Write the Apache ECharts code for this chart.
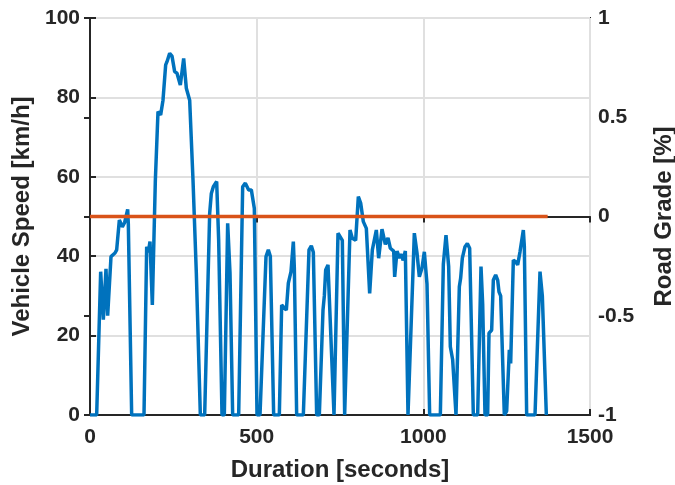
<!DOCTYPE html>
<html>
<head>
    <meta charset="utf-8" />
    <title>Vehicle Speed / Road Grade</title>
    <style type="text/css">
        html,body{margin:0;padding:0;background:#fff;}
        #chart{width:675px;height:485px;}
    </style>
</head>
<body>
<div id="chart"></div>
<script src="https://cdn.jsdelivr.net/npm/echarts@6/dist/echarts.min.js"></script>
<script>
    // drive cycle
    var durationSec = [0, 20, 32, 40, 48, 53, 63, 75, 80, 88, 97, 104, 113, 115, 125, 162, 170, 175, 180, 187,
        196, 204, 212, 219, 227, 231, 239, 246, 254, 261, 271, 281, 289, 299, 309, 319, 331, 344, 359, 364,
        370, 380, 386, 396, 403, 413, 420, 428, 446, 458, 466, 476, 484, 493, 501, 510, 528, 535, 541, 551,
        568, 575, 581, 589, 595, 603, 606, 610, 613, 620, 640, 657, 664, 670, 680, 688, 699, 703, 707, 714,
        732, 736, 744, 750, 757, 764, 767, 780, 787, 797, 805, 812, 820, 829, 839, 847, 859, 866, 876, 886,
        894, 901, 911, 914, 921, 929, 936, 939, 946, 954, 958, 973, 981, 988, 996, 1003, 1011, 1019, 1051, 1060,
        1068, 1076, 1081, 1088, 1098, 1108, 1112, 1117, 1125, 1132, 1139, 1150, 1163, 1173, 1178, 1185, 1193, 1197, 1205, 1210,
        1217, 1223, 1227, 1232, 1243, 1250, 1258, 1262, 1270, 1277, 1283, 1290, 1300, 1303, 1310, 1335, 1350, 1357, 1369, 1371];
    var speedKmh = [0, 0, 36.1, 24, 36.8, 25, 39.9, 40.8, 41.6, 49.1, 47.4, 48.5, 51.8, 48, 0, 0, 42.4, 41, 43.7, 27.7,
        59, 76.4, 75.6, 79.3, 88.2, 89, 91.1, 90.4, 86.5, 86.1, 83.1, 89.8, 82.3, 79.3, 59.2, 35.7, 0, 0, 50.8, 55.8,
        57.5, 58.8, 44, 0, 0, 48.3, 35.8, 0, 0, 57.5, 58.4, 56.7, 56.7, 52, 0, 0, 39.9, 41.6, 40, 0,
        0, 27.7, 28, 26.4, 33.2, 36.1, 35.7, 43.7, 37, 0, 0, 41.6, 42.6, 41, 0, 0, 26.4, 30, 36.5, 37.8,
        0, 0, 45.8, 46, 44, 0, 0, 46.6, 44.5, 44, 55, 53.4, 48.7, 47, 30.6, 41.6, 46.6, 39.5, 46.8, 43,
        44.6, 42, 41.3, 34.8, 41.3, 39.6, 40.5, 38.9, 41.3, 0, 0, 45.8, 40.8, 34.8, 37, 41.1, 33, 0, 0, 38,
        45.3, 37.4, 17.2, 13.9, 0, 32.3, 34.5, 39.5, 42.4, 43.2, 42, 0, 0, 37.4, 28, 0, 0, 20.6, 21.4, 34,
        35.3, 34, 31, 30, 0, 1, 16.4, 13, 39, 38.6, 37.8, 41.1, 46.6, 42.5, 0, 0, 36.1, 30, 0, 0];
    var gradeSec = [0, 1373];
    var gradePct = [0, 0];

    var speedData = [];
    for (var i = 0; i < durationSec.length; i++) {
        speedData.push([durationSec[i], speedKmh[i]]);
    }
    var gradeData = [];
    for (var j = 0; j < gradeSec.length; j++) {
        gradeData.push([gradeSec[j], gradePct[j]]);
    }

    var ink = '#262626';
    var fontName = '"Liberation Sans", Arial, sans-serif';
    var labelStyle = {color: ink, fontSize: 21, fontWeight: 'bold', fontFamily: fontName};
    var nameStyle = {color: ink, fontSize: 24, fontWeight: 'bold', fontFamily: fontName};
    var tick = {show: true, inside: true, length: 6, lineStyle: {color: ink, width: 2}};

    var chart = echarts.init(document.getElementById('chart'));
    chart.setOption({
        animation: false,
        grid: {left: 90, top: 18, right: 85, bottom: 70, outerBoundsMode: 'none', containLabel: false,
            show: true, borderColor: ink, borderWidth: 2},
        xAxis: [{
            type: 'value',
            min: 0, max: 1500, interval: 500,
            name: 'Duration [seconds]',
            nameLocation: 'middle',
            nameGap: 43,
            nameTextStyle: nameStyle,
            axisLine: {show: true, lineStyle: {color: ink, width: 2}},
            axisTick: tick,
            axisLabel: Object.assign({margin: 12, formatter: function (v) { return String(v); }}, labelStyle),
            splitLine: {show: true, lineStyle: {color: '#e0e0e0', width: 2}}
        }, {
            type: 'value',
            position: 'top',
            min: 0, max: 1500, interval: 500,
            axisLine: {show: true, lineStyle: {color: ink, width: 2}},
            axisTick: tick,
            axisLabel: {show: false},
            splitLine: {show: false}
        }],
        yAxis: [{
            type: 'value',
            min: 0, max: 100, interval: 20,
            name: 'Vehicle Speed [km/h]',
            nameLocation: 'middle',
            nameRotate: 90,
            nameGap: 54,
            nameTextStyle: nameStyle,
            axisLine: {show: true, lineStyle: {color: ink, width: 2}},
            axisTick: tick,
            axisLabel: Object.assign({margin: 10}, labelStyle),
            splitLine: {show: true, lineStyle: {color: '#e0e0e0', width: 2}}
        }, {
            type: 'value',
            position: 'right',
            min: -1, max: 1, interval: 0.5,
            name: 'Road Grade [%]',
            nameLocation: 'middle',
            nameRotate: 90,
            nameGap: 62,
            nameTextStyle: nameStyle,
            axisLine: {show: true, lineStyle: {color: ink, width: 2}},
            axisTick: tick,
            axisLabel: Object.assign({margin: 8}, labelStyle),
            splitLine: {show: false}
        }],
        series: [{
            name: 'Vehicle Speed',
            type: 'line',
            yAxisIndex: 0,
            data: speedData,
            showSymbol: false,
            lineStyle: {color: '#0072BD', width: 3.5},
            itemStyle: {color: '#0072BD'},
            z: 3
        }, {
            name: 'Road Grade',
            type: 'line',
            yAxisIndex: 1,
            data: gradeData,
            showSymbol: false,
            lineStyle: {color: '#D95319', width: 3.5},
            itemStyle: {color: '#D95319'},
            z: 4
        }]
    });
</script>
</body>
</html>
